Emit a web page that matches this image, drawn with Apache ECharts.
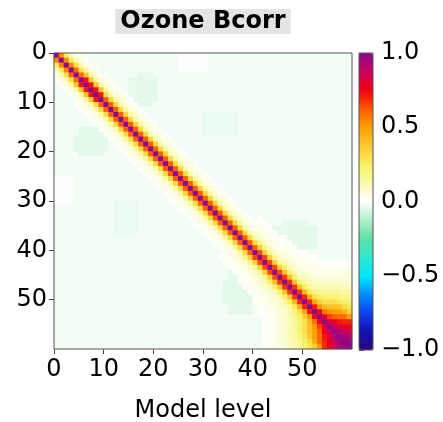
<!DOCTYPE html>
<html><head><meta charset="utf-8">
<script src="https://cdn.jsdelivr.net/npm/echarts@6/dist/echarts.min.js"></script>
<style>html,body{margin:0;padding:0;background:#fff}#c{width:443px;height:422px}</style>
</head><body><div id="c"></div>
<script>
// ---- data ----
const levels = Array.from({length: 60}, (_, i) => i);
const xTicks = [0, 10, 20, 30, 40, 50];
const yTicks = [0, 10, 20, 30, 40, 50];
const cbarTicks = [-1, -0.5, 0, 0.5, 1];
const titleText = 'Ozone Bcorr';
const xLabel = 'Model level';
// correlation of level r with levels r-1, r-2, ... (read left of the diagonal)
const p1 = [0.55, 0.25, 0.1, 0.03];
const p2 = [0.6, 0.3, 0.12, 0.04, 0.02];
const p3 = [0.72, 0.38, 0.15, 0.05, 0.02];
const pMid = [0.62, 0.32, 0.14, 0.06, 0.03, 0.01];
const p41 = [0.65, 0.35, 0.17, 0.09, 0.05, 0.03, 0.02, 0.01];
const p46 = [0.68, 0.4, 0.22, 0.12, 0.07, 0.05, 0.03, 0.02, 0.01];
const lagProfiles = [
  [], p1, p1, p1, p2, p2, p3, p3, p3, p3,
  pMid, pMid, pMid, pMid, pMid, pMid, pMid, pMid, pMid, pMid,
  pMid, pMid, pMid, pMid, pMid, pMid, pMid, pMid, pMid, pMid,
  pMid, pMid, pMid, pMid, pMid, pMid, pMid, pMid, pMid, pMid,
  pMid, p41, p41, p41, p41, p41, p46, p46, p46, p46,
  [0.7, 0.43, 0.25, 0.15, 0.09, 0.06, 0.04, 0.03, 0.02, 0.01],
  [0.7, 0.45, 0.27, 0.17, 0.11, 0.07, 0.05, 0.03, 0.02, 0.01],
  [0.72, 0.48, 0.3, 0.2, 0.13, 0.09, 0.06, 0.04, 0.03, 0.02, 0.01],
  [0.74, 0.52, 0.36, 0.25, 0.17, 0.12, 0.08, 0.05, 0.03, 0.02, 0.01],
  [0.77, 0.58, 0.42, 0.3, 0.22, 0.16, 0.11, 0.08, 0.05, 0.03, 0.02, 0.01],
  [0.82, 0.66, 0.52, 0.4, 0.3, 0.22, 0.16, 0.12, 0.08, 0.05, 0.03, 0.02, 0.01],
  [0.88, 0.75, 0.62, 0.5, 0.4, 0.3, 0.22, 0.16, 0.12, 0.08, 0.05, 0.03, 0.02, 0.01],
  [0.92, 0.82, 0.72, 0.6, 0.5, 0.38, 0.27, 0.2, 0.15, 0.11, 0.08, 0.05, 0.03, 0.02, 0.01],
  [0.95, 0.88, 0.8, 0.7, 0.6, 0.45, 0.32, 0.24, 0.18, 0.13, 0.1, 0.07, 0.05, 0.03, 0.02, 0.01],
  [0.97, 0.92, 0.85, 0.75, 0.7, 0.5, 0.35, 0.28, 0.22, 0.17, 0.13, 0.1, 0.07, 0.05, 0.04, 0.02, 0.01]
];
const farValue = -0.02;
// [rowFrom, rowTo, colFrom, colTo, value] below the diagonal, mirrored above
const farPatches = [
  [15, 20, 5, 9, -0.045],
  [17, 19, 4, 10, -0.045],
  [44, 52, 35, 39, -0.045],
  [46, 50, 34, 40, -0.045],
  [30, 36, 12, 16, -0.035],
  [25, 30, 0, 3, -0.005]
];
const cmap = ['#2b0a7a', '#1010b0', '#1040f0', '#0090ff', '#00e8f8', '#30e8d0', '#60e0a8', '#b0f0c8',
  '#ffffff', '#fafab0', '#f8f060', '#fcc830', '#ffa000', '#ff5a00', '#f00010', '#cc0060', '#8a0a8a'];

// ---- build matrix ----
function farAt(r, c) {
  let v = farValue;
  for (const p of farPatches) if (r >= p[0] && r <= p[1] && c >= p[2] && c <= p[3]) v = p[4];
  return v;
}
const cells = [];
for (let i = 0; i < levels.length; i++) {
  for (let j = 0; j < levels.length; j++) {
    const r = Math.max(i, j), c = Math.min(i, j), k = r - c;
    let v;
    if (k === 0) v = 1;
    else if (k <= lagProfiles[r].length) v = lagProfiles[r][k - 1];
    else v = farAt(r, c);
    cells.push([j, i, v]);
  }
}

const F = 'DejaVu Sans';
const FS = 24;
const fmtMinus = v => (v < 0 ? '\u2212' : '') + Math.abs(v).toFixed(1);
const chart = echarts.init(document.getElementById('c'), null, {renderer: 'canvas'});
chart.setOption({
  animation: false,
  backgroundColor: '#fff',
  title: {
    text: titleText, left: 198, textAlign: 'center', top: 9,
    backgroundColor: '#e4e4e4', padding: [1, 5, 0, 5],
    textStyle: {fontFamily: F, fontWeight: 'bold', fontSize: 24, color: '#000', lineHeight: 24}
  },
  grid: [
    {left: 54, top: 53, width: 298, height: 296, show: true, borderColor: '#555', borderWidth: 1, backgroundColor: 'transparent', z: 10, outerBoundsMode: 'none', containLabel: false},
    {left: 359, top: 53, width: 14, height: 297, show: true, borderColor: '#555', borderWidth: 1, backgroundColor: 'transparent', z: 10, outerBoundsMode: 'none', containLabel: false}
  ],
  xAxis: [
    {type: 'category', gridIndex: 0, data: levels, show: false},
    {type: 'value', gridIndex: 0, min: 0, max: 60, position: 'bottom',
     name: xLabel, nameLocation: 'middle', nameGap: 50,
     nameTextStyle: {fontFamily: F, fontSize: FS, color: '#000'},
     axisLine: {show: false}, splitLine: {show: false},
     axisTick: {show: true, length: 5, lineStyle: {color: '#444'}, customValues: xTicks},
     axisLabel: {fontFamily: F, fontSize: FS, color: '#000', margin: 9, customValues: xTicks}},
    {type: 'value', gridIndex: 1, show: false, min: 0, max: 1}
  ],
  yAxis: [
    {type: 'category', gridIndex: 0, data: levels, inverse: true, show: false},
    {type: 'value', gridIndex: 0, min: 0, max: 60, inverse: true, position: 'left',
     axisLine: {show: false}, splitLine: {show: false},
     axisTick: {show: true, length: 5, lineStyle: {color: '#444'}, customValues: yTicks},
     axisLabel: {fontFamily: F, fontSize: FS, color: '#000', margin: 7, customValues: yTicks}},
    {type: 'value', gridIndex: 1, min: -1, max: 1, position: 'right',
     axisLine: {show: false}, splitLine: {show: false},
     axisTick: {show: true, length: 5, lineStyle: {color: '#444'}, customValues: cbarTicks},
     axisLabel: {fontFamily: F, fontSize: FS, color: '#000', margin: 8, customValues: cbarTicks, formatter: fmtMinus}}
  ],
  visualMap: {
    type: 'continuous', min: -1, max: 1, seriesIndex: 0, show: true,
    left: 359, top: 53, itemWidth: 14, itemHeight: 297, padding: 0,
    text: ['', ''], calculable: false, hoverLink: false,
    inRange: {color: cmap}
  },
  series: [{
    type: 'heatmap', xAxisIndex: 0, yAxisIndex: 0, data: cells,
    itemStyle: {borderWidth: 0}, emphasis: {disabled: true}, progressive: 0
  }]
});
</script></body></html>
